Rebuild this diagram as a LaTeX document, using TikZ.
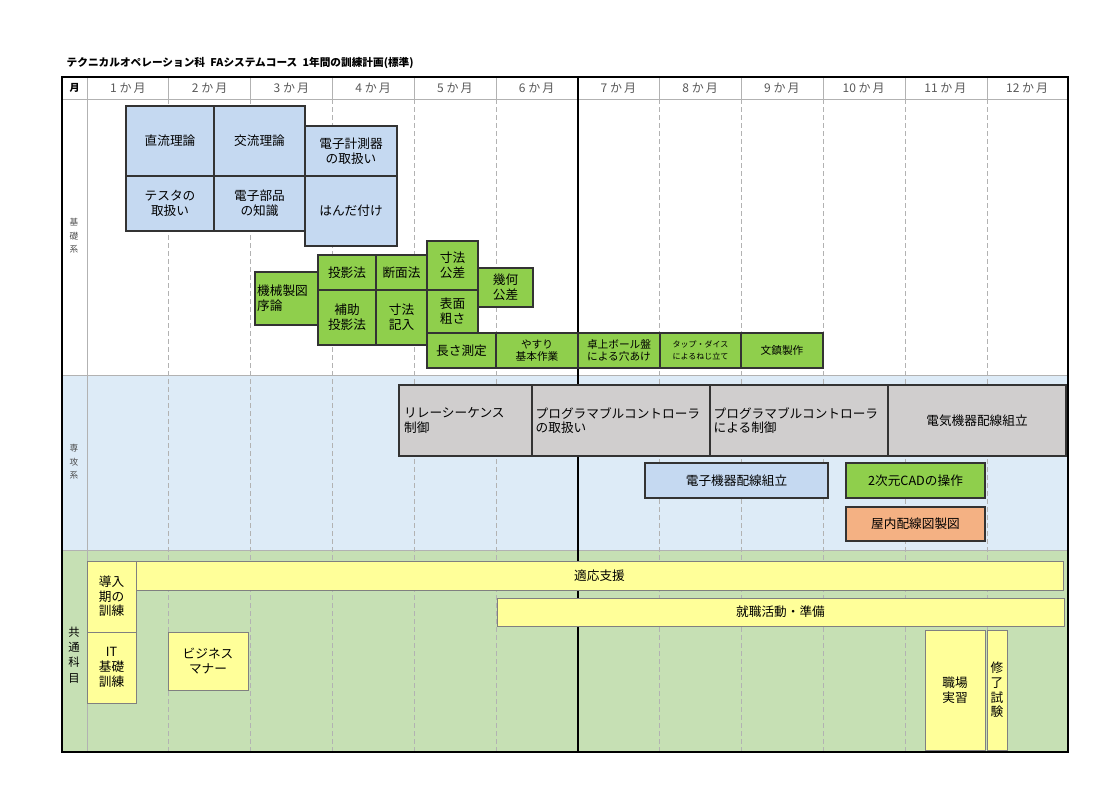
\documentclass[tikz,border=0pt]{standalone}
\usepackage{fontspec}
\setmainfont{Noto Sans CJK JP}
\definecolor{cblue}{HTML}{C5D9F1}
\definecolor{cgreen}{HTML}{8FCF4C}
\definecolor{cgrey}{HTML}{D0CECE}
\definecolor{band2}{HTML}{DDEBF7}
\definecolor{band3}{HTML}{C6E0B4}
\definecolor{cyel}{HTML}{FFFF99}
\definecolor{corange}{HTML}{F4B183}
\tikzset{box/.style={draw=black!80,line width=0.8pt,inner sep=1pt,font=\fontsize{9.5}{11}\selectfont,align=center},
grid/.style={gray!60,line width=0.6pt},
dgrid/.style={gray!60,line width=0.6pt,dash pattern=on 4pt off 2pt},
ybox/.style={draw=black!50,line width=0.5pt}}
\newcommand\bx[8]{\pgfmathsetmacro\ww{(#4-#3)*0.75}\pgfmathsetmacro\hh{(#6-#5)*0.75}%
\node[box,fill=#7,minimum width=\ww pt,minimum height=\hh pt,#2] (#1) at ({(#3+#4)/2},{(#5+#6)/2}) {#8};}
\begin{document}
\begin{tikzpicture}[x=0.75pt,y=-0.75pt]
\useasboundingbox (0,0) rectangle (1120,792);
\fill[band2] (62,375) rectangle (1068,550);
\fill[band3] (62,550) rectangle (1068,752);
\foreach \x in {168,250,332,414,496,659,741,823,905,987} \draw[dgrid] (\x,99) -- (\x,752);
\draw[grid] (87,77) -- (87,752);
\draw[grid] (62,99) -- (1068,99);
\draw[grid] (62,375) -- (1068,375);
\draw[grid] (62,550) -- (1068,550);
\foreach \x in {168,250,332,414,496,659,741,823,905,987} \draw[grid] (\x,77) -- (\x,99);
\draw[line width=1.6pt] (578,77) -- (578,752);
\draw[line width=1.6pt] (62,77) rectangle (1068,752);
\node[anchor=west,font=\bfseries\fontsize{8}{9}\selectfont] (title) at (62,63) {テクニカルオペレーション科\enspace FAシステムコース\enspace 1年間の訓練計画(標準)};
\node[font=\bfseries\fontsize{7.5}{9}\selectfont] (m0) at (74.5,88) {月};
\foreach \i in {1,...,12}
  \node[font=\fontsize{9}{9}\selectfont,text=black!65] (m\i) at ({87+81.75*(\i-0.5)},88) {\i\ か\,月};
\node[font=\fontsize{6.5}{10}\selectfont,text=black!70,align=center] (s1) at (74,236) {基\\礎\\系};
\node[font=\fontsize{6.5}{10}\selectfont,text=black!70,align=center] (s2) at (74,462) {専\\攻\\系};
\node[font=\fontsize{8.5}{11.5}\selectfont,align=center] (s3) at (74,655) {共\\通\\科\\目};
% blue
\bx{a1}{}{126}{214}{106}{176}{cblue}{直流理論}
\bx{a2}{}{214}{305}{106}{176}{cblue}{交流理論}
\bx{a3}{}{126}{214}{176}{231}{cblue}{テスタの\\取扱い}
\bx{a4}{}{214}{305}{176}{231}{cblue}{電子部品\\の知識}
\bx{a5}{}{305}{397}{126}{176}{cblue}{電子計測器\\の取扱い}
\bx{a6}{}{305}{397}{176}{246}{cblue}{はんだ付け}
% green
\bx{g1}{align=left,text width=44pt}{255}{318}{272}{325}{cgreen}{機械製図\\序論}
\bx{g2}{}{318}{376}{255}{290}{cgreen}{投影法}
\bx{g3}{}{318}{376}{290}{345}{cgreen}{補助\\投影法}
\bx{g4}{}{376}{427}{255}{290}{cgreen}{断面法}
\bx{g5}{}{376}{427}{290}{345}{cgreen}{寸法\\記入}
\bx{g6}{}{427}{478}{241}{290}{cgreen}{寸法\\公差}
\bx{g7}{}{427}{478}{290}{333}{cgreen}{表面\\粗さ}
\bx{g8}{}{478}{533}{268}{307}{cgreen}{幾何\\公差}
\bx{g9}{}{427}{496}{333}{368}{cgreen}{長さ測定}
\bx{g10}{font=\fontsize{8}{9.5}\selectfont}{496}{578}{333}{368}{cgreen}{やすり\\基本作業}
\bx{g11}{font=\fontsize{8}{9.5}\selectfont}{578}{660}{333}{368}{cgreen}{卓上ボール盤\\による穴あけ}
\bx{g12}{font=\fontsize{6}{9}\selectfont}{660}{741}{333}{368}{cgreen}{タップ・ダイス\\によるねじ立て}
\bx{g13}{font=\fontsize{8}{9.5}\selectfont}{741}{823}{333}{368}{cgreen}{文鎮製作}
% grey
\bx{r1}{align=left,text width=92pt}{399}{532}{385}{456}{cgrey}{リレーシーケンス\\制御}
\bx{r2}{align=left,text width=128pt}{532}{710}{385}{456}{cgrey}{プログラマブルコントローラ\\の取扱い}
\bx{r3}{align=left,text width=128pt}{710}{888}{385}{456}{cgrey}{プログラマブルコントローラ\\による制御}
\bx{r4}{}{888}{1066}{385}{456}{cgrey}{電気機器配線組立}
\bx{b1}{}{645}{828}{463}{498}{cblue}{電子機器配線組立}
\bx{b2}{}{846}{985}{463}{498}{cgreen}{2次元CADの操作}
\bx{b3}{}{846}{985}{507}{541}{corange}{屋内配線図製図}
% yellow
\bx{y1}{ybox}{136}{1063}{561}{590}{cyel}{適応支援}
\bx{y2}{ybox}{497}{1064}{598}{626}{cyel}{就職活動・準備}
\bx{y3}{ybox}{87}{136}{561}{632}{cyel}{導入\\期の\\訓練}
\bx{y4}{ybox}{87}{136}{632}{703}{cyel}{IT\\基礎\\訓練}
\bx{y5}{ybox}{168}{248}{632}{690}{cyel}{ビジネス\\マナー}
\bx{y6}{ybox}{925}{985}{630}{750}{cyel}{職場\\実習}
\bx{y7}{ybox,inner sep=0pt}{987}{1007}{630}{750}{cyel}{修\\了\\試\\験}
\end{tikzpicture}
\end{document}
